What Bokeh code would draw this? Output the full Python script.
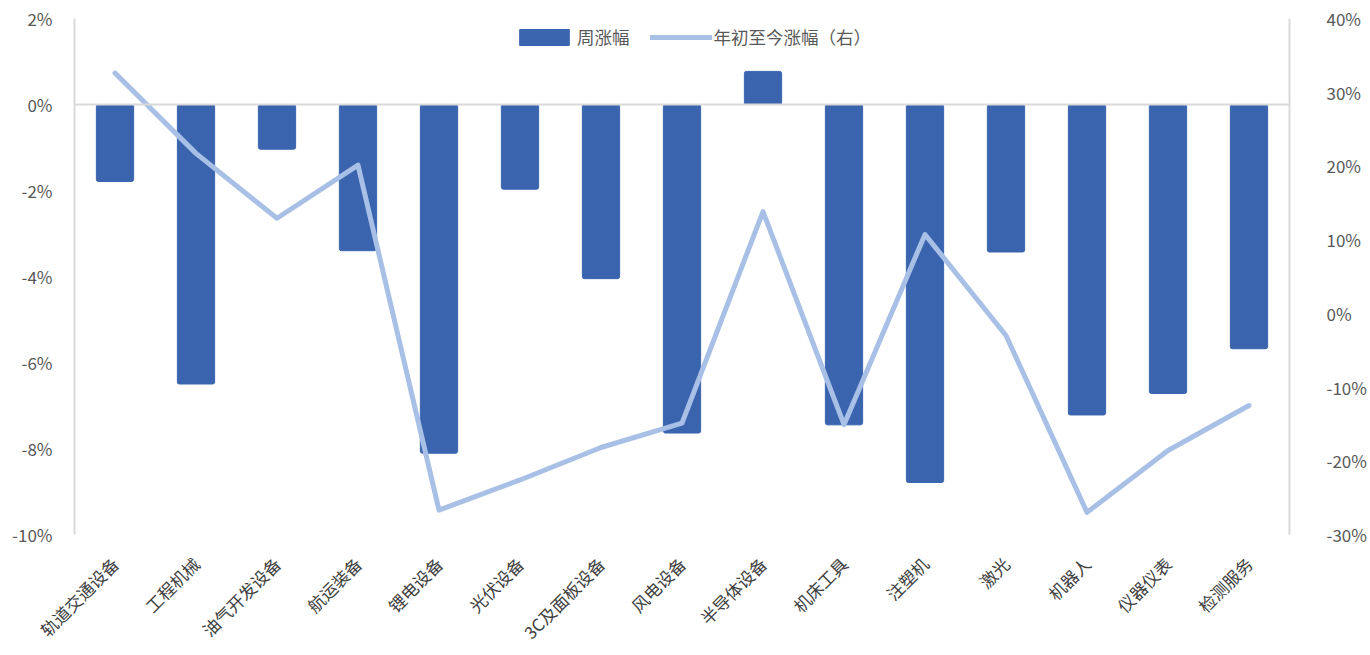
import math
from bokeh.plotting import figure
from bokeh.models import (FactorRange, Range1d, LinearAxis, FixedTicker, PrintfTickFormatter,
                          Span, Legend, LegendItem, ColumnDataSource)
from bokeh.embed import file_html
from bokeh.resources import INLINE

categories = ["轨道交通设备", "工程机械", "油气开发设备", "航运装备", "锂电设备", "光伏设备",
              "3C及面板设备", "风电设备", "半导体设备", "机床工具", "注塑机", "激光",
              "机器人", "仪器仪表", "检测服务"]
weekly_pct = [-1.79, -6.50, -1.04, -3.40, -8.11, -1.97, -4.05, -7.64, 0.77, -7.45,
              -8.79, -3.43, -7.22, -6.72, -5.68]
ytd_pct = [32.6, 21.7, 12.9, 20.1, -26.7, -22.6, -18.2, -14.9, 13.8, -15.1,
           10.7, -3.0, -27.0, -18.6, -12.5]
left_ticks = [-10, -8, -6, -4, -2, 0, 2]
right_ticks = [-30, -20, -10, 0, 10, 20, 30, 40]

FONT = "Noto Sans CJK SC"
TXT = "#595959"
AX = "#d9d9d9"
BAR = "#3a64ae"
LINE = "#a8bfe6"

src = ColumnDataSource(dict(cat=categories, w=weekly_pct, y=ytd_pct))

p = figure(width=1370, height=655, output_backend="svg", toolbar_location=None,
           x_range=FactorRange(*categories, range_padding=0),
           y_range=Range1d(-10, 2),
           min_border_left=74, min_border_right=81, min_border_top=18, min_border_bottom=119)
p.extra_y_ranges = {"right": Range1d(-30, 40)}
p.outline_line_color = None
p.grid.visible = False
p.background_fill_color = "white"
p.border_fill_color = "white"

bars = p.vbar(x="cat", top="w", bottom=0, width=0.46, source=src,
              fill_color=BAR, line_color=BAR, line_width=1, border_radius=2)
ln = p.line(x="cat", y="y", source=src, y_range_name="right",
            line_width=5, line_color=LINE, line_cap="round", line_join="round")

p.add_layout(Span(location=0, dimension="width", line_color=AX, line_width=2))

def style_y(ax, standoff):
    ax.axis_line_color = AX
    ax.axis_line_width = 2
    ax.major_tick_line_color = None
    ax.minor_tick_line_color = None
    ax.major_tick_out = 0
    ax.major_tick_in = 0
    ax.minor_tick_out = 0
    ax.major_label_standoff = standoff
    ax.major_label_text_font = FONT
    ax.major_label_text_font_size = "17px"
    ax.major_label_text_color = TXT

# left axis
ya = p.yaxis[0]
ya.ticker = FixedTicker(ticks=left_ticks)
ya.formatter = PrintfTickFormatter(format="%d%%")
style_y(ya, 22)

# right axis
ra = LinearAxis(y_range_name="right", ticker=FixedTicker(ticks=right_ticks),
                formatter=PrintfTickFormatter(format="%d%%"))
style_y(ra, 37)
ra.major_label_text_align = "left"
p.add_layout(ra, "right")

# bottom axis
xa = p.xaxis[0]
xa.axis_line_color = None
xa.major_tick_line_color = None
xa.minor_tick_line_color = None
xa.major_tick_out = 0
xa.major_tick_in = 0
xa.major_label_orientation = math.pi / 4
xa.major_label_standoff = 26
xa.major_label_text_font = FONT
xa.major_label_text_font_size = "17px"
xa.major_label_text_color = "#404040"

legend = Legend(items=[LegendItem(label="周涨幅", renderers=[bars]),
                       LegendItem(label="年初至今涨幅（右）", renderers=[ln])],
                orientation="horizontal", location=(439, 485),
                glyph_width=62, glyph_height=20, spacing=20, padding=0, margin=0,
                label_standoff=2, label_text_font=FONT, label_text_font_size="17.5px",
                label_text_color=TXT, border_line_color=None, background_fill_alpha=0)
p.add_layout(legend, "center")

open("out.html", "w").write(file_html(p, INLINE))
